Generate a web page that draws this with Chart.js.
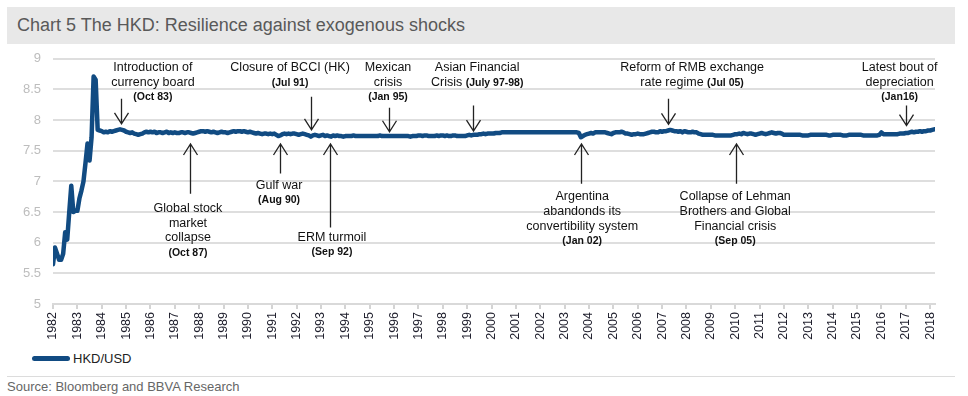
<!DOCTYPE html>
<html>
<head>
<meta charset="utf-8">
<title>HKD resilience</title>
<script src="https://cdn.jsdelivr.net/npm/chart.js@4.4.1/dist/chart.umd.min.js"></script>
<style>
  html, body { margin: 0; padding: 0; background: #fff; }
  body { width: 968px; height: 396px; position: relative; overflow: hidden;
         font-family: "Liberation Sans", Arial, sans-serif; }
  #title { position: absolute; left: 7px; top: 7px; width: 948px; height: 37px;
           box-sizing: border-box; padding-left: 10px; background: #e8e8e8;
           color: #595959; font-size: 18px; line-height: 37px; }
  #wrap { position: absolute; left: 0; top: 39px; width: 968px; height: 310px; }
  #wrap canvas { display: block; }
  #legend { position: absolute; left: 32px; top: 350px; height: 17px; display: flex;
            align-items: center; font-size: 13px; color: #222; }
  #legend .swatch { width: 38px; height: 5px; border-radius: 3px; background: #114b82; margin-right: 3px; }
  #rule { position: absolute; left: 7px; top: 376px; width: 948px; height: 1px; background: #dcdcdc; }
  #source { position: absolute; left: 7px; top: 379px; font-size: 13px; color: #666; }
</style>
</head>
<body>
<div id="title">Chart 5 The HKD: Resilience against exogenous shocks</div>
<div id="wrap"><canvas id="hkd" width="968" height="310"></canvas></div>
<div id="legend"><span class="swatch"></span>HKD/USD</div>
<div id="rule"></div>
<div id="source">Source: Bloomberg and BBVA Research</div>
<script>
// ---- data (monthly) ----
const startYear = 1982;   // first month = Jan 1982
const yearTicks = [1982, 1983, 1984, 1985, 1986, 1987, 1988, 1989, 1990, 1991, 1992, 1993,
  1994, 1995, 1996, 1997, 1998, 1999, 2000, 2001, 2002, 2003, 2004, 2005, 2006, 2007,
  2008, 2009, 2010, 2011, 2012, 2013, 2014, 2015, 2016, 2017, 2018];

// HKD per USD, one row per year (Jan..Dec), 2018 ends in March
const hkdusd = [
  5.65, 5.92, 5.82, 5.72, 5.72, 5.82, 6.17, 6.05, 6.50, 6.93, 6.50, 6.52,  // 1982
  6.52, 6.72, 6.85, 7.00, 7.30, 7.62, 7.34, 7.72, 8.71, 8.66, 7.84, 7.83,  // 1983
  7.82, 7.80, 7.81, 7.80, 7.82, 7.81, 7.82, 7.83, 7.84, 7.85, 7.84, 7.83,  // 1984
  7.81, 7.80, 7.79, 7.80, 7.78, 7.77, 7.76, 7.77, 7.78, 7.80, 7.81, 7.80,  // 1985
  7.81, 7.80, 7.81, 7.79, 7.80, 7.80, 7.79, 7.80, 7.81, 7.79, 7.80, 7.79,  // 1986
  7.80, 7.79, 7.79, 7.80, 7.80, 7.79, 7.80, 7.80, 7.79, 7.78, 7.79, 7.80,  // 1987
  7.81, 7.82, 7.82, 7.81, 7.82, 7.81, 7.80, 7.81, 7.80, 7.79, 7.80, 7.81,  // 1988
  7.80, 7.80, 7.79, 7.80, 7.81, 7.82, 7.81, 7.82, 7.82, 7.81, 7.82, 7.81,  // 1989
  7.80, 7.81, 7.80, 7.79, 7.78, 7.79, 7.78, 7.77, 7.78, 7.78, 7.77, 7.78,  // 1990
  7.77, 7.78, 7.76, 7.74, 7.75, 7.77, 7.78, 7.77, 7.78, 7.77, 7.78, 7.78,  // 1991
  7.77, 7.76, 7.77, 7.78, 7.77, 7.76, 7.75, 7.73, 7.75, 7.76, 7.75, 7.74,  // 1992
  7.75, 7.76, 7.74, 7.75, 7.74, 7.73, 7.75, 7.74, 7.75, 7.74, 7.74, 7.73,  // 1993
  7.74, 7.74, 7.74, 7.74, 7.75, 7.74, 7.74, 7.74, 7.74, 7.74, 7.74, 7.74,  // 1994
  7.74, 7.74, 7.74, 7.74, 7.74, 7.75, 7.74, 7.74, 7.74, 7.74, 7.74, 7.74,  // 1995
  7.74, 7.74, 7.74, 7.74, 7.74, 7.74, 7.74, 7.74, 7.73, 7.74, 7.74, 7.74,  // 1996
  7.75, 7.75, 7.74, 7.75, 7.75, 7.74, 7.74, 7.74, 7.74, 7.75, 7.74, 7.75,  // 1997
  7.75, 7.74, 7.75, 7.74, 7.74, 7.75, 7.75, 7.74, 7.74, 7.74, 7.74, 7.74,  // 1998
  7.75, 7.76, 7.75, 7.76, 7.76, 7.76, 7.77, 7.77, 7.78, 7.77, 7.78, 7.78,  // 1999
  7.78, 7.78, 7.79, 7.79, 7.79, 7.80, 7.80, 7.80, 7.80, 7.80, 7.80, 7.80,  // 2000
  7.80, 7.80, 7.80, 7.80, 7.80, 7.80, 7.80, 7.80, 7.80, 7.80, 7.80, 7.80,  // 2001
  7.80, 7.80, 7.80, 7.80, 7.80, 7.80, 7.80, 7.80, 7.80, 7.80, 7.80, 7.80,  // 2002
  7.80, 7.80, 7.80, 7.80, 7.80, 7.80, 7.80, 7.79, 7.72, 7.74, 7.76, 7.77,  // 2003
  7.78, 7.79, 7.78, 7.80, 7.80, 7.80, 7.80, 7.80, 7.80, 7.79, 7.78, 7.77,  // 2004
  7.79, 7.80, 7.80, 7.80, 7.81, 7.80, 7.78, 7.78, 7.77, 7.76, 7.77, 7.77,  // 2005
  7.78, 7.77, 7.77, 7.77, 7.78, 7.79, 7.80, 7.81, 7.81, 7.80, 7.80, 7.82,  // 2006
  7.81, 7.82, 7.82, 7.83, 7.84, 7.83, 7.82, 7.82, 7.81, 7.82, 7.80, 7.82,  // 2007
  7.81, 7.80, 7.80, 7.81, 7.80, 7.80, 7.78, 7.77, 7.76, 7.76, 7.76, 7.76,  // 2008
  7.76, 7.76, 7.75, 7.75, 7.75, 7.75, 7.75, 7.75, 7.75, 7.75, 7.75, 7.76,  // 2009
  7.77, 7.77, 7.78, 7.77, 7.79, 7.78, 7.77, 7.78, 7.78, 7.77, 7.76, 7.77,  // 2010
  7.78, 7.79, 7.78, 7.77, 7.78, 7.79, 7.80, 7.79, 7.78, 7.79, 7.79, 7.78,  // 2011
  7.76, 7.76, 7.76, 7.76, 7.76, 7.76, 7.76, 7.76, 7.76, 7.75, 7.75, 7.75,  // 2012
  7.75, 7.76, 7.76, 7.76, 7.76, 7.76, 7.76, 7.76, 7.76, 7.76, 7.75, 7.75,  // 2013
  7.76, 7.76, 7.76, 7.76, 7.76, 7.75, 7.75, 7.75, 7.76, 7.76, 7.76, 7.76,  // 2014
  7.76, 7.76, 7.76, 7.75, 7.75, 7.75, 7.75, 7.75, 7.75, 7.75, 7.75, 7.76,  // 2015
  7.80, 7.77, 7.77, 7.77, 7.77, 7.77, 7.77, 7.77, 7.77, 7.78, 7.78, 7.78,  // 2016
  7.79, 7.79, 7.80, 7.81, 7.80, 7.81, 7.81, 7.82, 7.81, 7.82, 7.82, 7.83,  // 2017
  7.83, 7.84, 7.85                                                         // 2018
];

// event notes: arrow at year `at` from value `from` to value `to` (head at `to`),
// text block centred at year `textAt`, first line at value `textTop`. {..} = bold
const notes = [
  { at: 1984.79, from: 8.35, to: 7.94, textAt: 1986.10, textTop: 8.85,
    lines: ["Introduction of", "currency board", "{(Oct 83)}"] },
  { at: 1992.59, from: 8.38, to: 7.84, textAt: 1991.73, textTop: 8.85,
    lines: ["Closure of BCCI (HK)", "{(Jul 91)}"] },
  { at: 1995.79, from: 8.20, to: 7.81, textAt: 1995.75, textTop: 8.85,
    lines: ["Mexican", "crisis", "{(Jan 95)}"] },
  { at: 1999.24, from: 8.24, to: 7.82, textAt: 1999.41, textTop: 8.85,
    lines: ["Asian Financial", "Crisis {(July 97-98)}"] },
  { at: 2007.24, from: 8.35, to: 7.93, textAt: 2008.23, textTop: 8.85,
    lines: ["Reform of RMB exchange", "rate regime {(Jul 05)}"] },
  { at: 2017.01, from: 8.24, to: 7.91, textAt: 2016.75, textTop: 8.85,
    lines: ["Latest bout of", "depreciation", "{(Jan16)}"] },
  { at: 1987.62, from: 6.80, to: 7.61, textAt: 1987.54, textTop: 6.56,
    lines: ["Global stock", "market", "collapse", "{(Oct 87)}"] },
  { at: 1991.32, from: 7.13, to: 7.61, textAt: 1991.28, textTop: 6.93,
    lines: ["Gulf war", "{(Aug 90)}"] },
  { at: 1993.37, from: 6.25, to: 7.61, textAt: 1993.45, textTop: 6.08,
    lines: ["ERM turmoil", "{(Sep 92)}"] },
  { at: 2003.67, from: 6.96, to: 7.61, textAt: 2003.72, textTop: 6.75,
    lines: ["Argentina", "abandonds its", "convertibility system", "{(Jan 02)}"] },
  { at: 2010.04, from: 6.96, to: 7.61, textAt: 2010.00, textTop: 6.75,
    lines: ["Collapse of Lehman", "Brothers and Global", "Financial crisis", "{(Sep 05)}"] }
];

const FAMILY = '"Liberation Sans", Arial, sans-serif';
const points = hkdusd.map((v, i) => ({ x: startYear + i / 12, y: v }));

// write a line where {..} parts are bold, centred on cx
function drawMixed(ctx, line, cx, cy) {
  const parts = line.split(/(\{[^}]*\})/).filter(Boolean).map(p =>
    p.startsWith("{") ? { t: p.slice(1, -1), f: "bold 10.5px " + FAMILY }
                      : { t: p, f: "12.5px " + FAMILY });
  let total = 0;
  for (const p of parts) { ctx.font = p.f; p.w = ctx.measureText(p.t).width; total += p.w; }
  let x = cx - total / 2;
  for (const p of parts) { ctx.font = p.f; ctx.fillText(p.t, x, cy); x += p.w; }
}

const notesPlugin = {
  id: "notes",
  afterDatasetsDraw(chart) {
    const { ctx, scales: { x, y } } = chart;
    ctx.save();
    ctx.strokeStyle = "#222";
    ctx.fillStyle = "#111";
    ctx.lineWidth = 1.3;
    ctx.textAlign = "left";
    ctx.textBaseline = "middle";
    for (const n of notes) {
      const ax = Math.round(x.getPixelForValue(n.at)) + 0.5;
      const y0 = y.getPixelForValue(n.from);
      const y1 = y.getPixelForValue(n.to);
      const dir = y1 > y0 ? 1 : -1;
      ctx.beginPath();
      ctx.moveTo(ax, y0); ctx.lineTo(ax, y1);
      ctx.moveTo(ax - 7, y1 - dir * 11); ctx.lineTo(ax, y1); ctx.lineTo(ax + 7, y1 - dir * 11);
      ctx.stroke();
      const tx = x.getPixelForValue(n.textAt);
      let ty = y.getPixelForValue(n.textTop);
      for (const line of n.lines) { drawMixed(ctx, line, tx, ty); ty += 14.8; }
    }
    ctx.restore();
  }
};

new Chart(document.getElementById("hkd"), {
  type: "line",
  data: {
    datasets: [{
      label: "HKD/USD",
      data: points,
      borderColor: "#114b82",
      borderWidth: 4.5,
      pointRadius: 0,
      tension: 0,
      borderJoinStyle: "round",
      borderCapStyle: "round"
    }]
  },
  options: {
    responsive: false,
    animation: false,
    devicePixelRatio: 1,
    layout: { padding: { left: 0, right: 33, top: 1, bottom: 0 } },
    plugins: { legend: { display: false }, tooltip: { enabled: false } },
    scales: {
      x: {
        type: "linear", min: 1982, max: 2018.2,
        afterBuildTicks: s => { s.ticks = yearTicks.map(v => ({ value: v })); },
        afterFit: s => { s.height = 45; },
        grid: { drawOnChartArea: false, drawTicks: true, tickLength: 5, color: "#d4d4d4", lineWidth: 2 },
        border: { display: true, color: "#d9d9d9", width: 2 },
        ticks: {
          autoSkip: false, minRotation: 90, maxRotation: 90, padding: 3,
          color: "#1d1d2b", font: { family: FAMILY, size: 12.5 },
          callback: v => String(v)
        }
      },
      y: {
        min: 5, max: 9,
        afterFit: s => { s.width = 53; },
        ticks: { stepSize: 0.5, color: "#bdbdbd", padding: 12, font: { family: FAMILY, size: 13 },
                 callback: v => String(v) },
        grid: { color: "#dedede", lineWidth: 2, drawTicks: false },
        border: { display: false }
      }
    }
  },
  plugins: [notesPlugin]
});
</script>
</body>
</html>
